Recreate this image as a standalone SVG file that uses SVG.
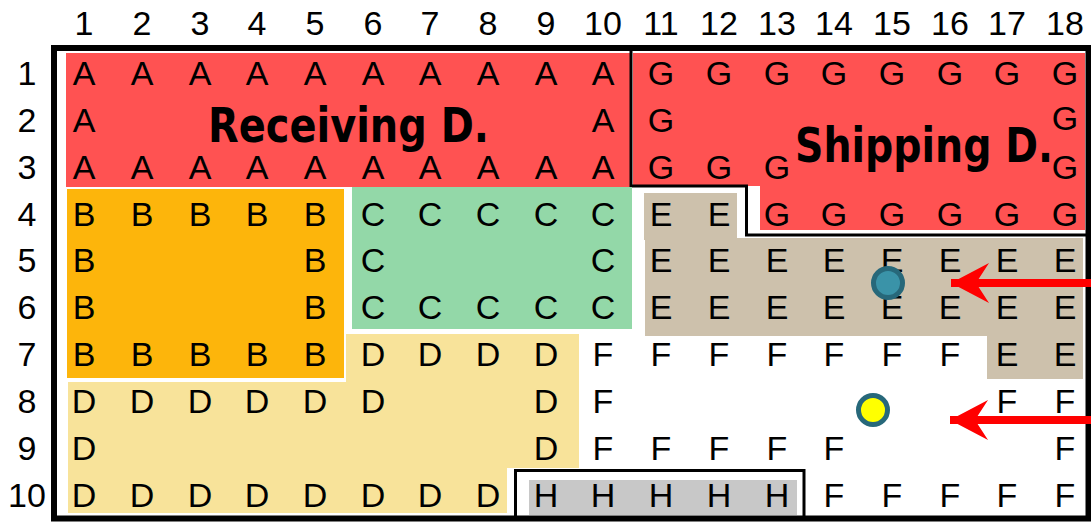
<svg xmlns="http://www.w3.org/2000/svg" width="1091" height="522" viewBox="0 0 1091 522">
<defs>
<style>
text{font-family:"Liberation Sans",Arial,sans-serif;font-size:34px;fill:#000;text-anchor:middle}
.lbl{font-family:"DejaVu Sans",Verdana,sans-serif;font-weight:bold;font-size:48px;text-anchor:start}
.line{fill:none;stroke:#000;stroke-width:3}
.red{fill:#FF5252}
.arrow{stroke:#FF0000;stroke-width:8;fill:none}
</style>
<marker id="head" viewBox="0 0 40 42" markerUnits="userSpaceOnUse" markerWidth="40" markerHeight="42" refX="38" refY="21" orient="auto">
<path d="M0,1 L38,21 L0,41 L13,21 Z" fill="#FF0000"/>
</marker>
</defs>
<rect width="1091" height="522" fill="#fff"/>
<g id="headers">
<text x="84" y="35">1</text><text x="142" y="35">2</text><text x="200" y="35">3</text><text x="257" y="35">4</text><text x="315" y="35">5</text><text x="373" y="35">6</text><text x="430" y="35">7</text><text x="488" y="35">8</text><text x="546" y="35">9</text><text x="603" y="35">10</text><text x="661" y="35">11</text><text x="719" y="35">12</text><text x="777" y="35">13</text><text x="834" y="35">14</text><text x="892" y="35">15</text><text x="950" y="35">16</text><text x="1007" y="35">17</text><text x="1065" y="35">18</text>
<text x="27" y="85">1</text><text x="27" y="132">2</text><text x="27" y="179">3</text><text x="27" y="226">4</text><text x="27" y="272">5</text><text x="27" y="319">6</text><text x="27" y="366">7</text><text x="27" y="413">8</text><text x="27" y="460">9</text><text x="27" y="507">10</text>
</g>
<g id="receiving">
<rect class="red" x="66" y="53" width="564" height="134"/>
<text x="84" y="85">A</text><text x="142" y="85">A</text><text x="200" y="85">A</text><text x="257" y="85">A</text><text x="315" y="85">A</text><text x="373" y="85">A</text><text x="430" y="85">A</text><text x="488" y="85">A</text><text x="546" y="85">A</text><text x="603" y="85">A</text>
<text x="84" y="132">A</text><text x="603" y="132">A</text>
<text x="84" y="179">A</text><text x="142" y="179">A</text><text x="200" y="179">A</text><text x="257" y="179">A</text><text x="315" y="179">A</text><text x="373" y="179">A</text><text x="430" y="179">A</text><text x="488" y="179">A</text><text x="546" y="179">A</text><text x="603" y="179">A</text>
<text class="lbl" x="208" y="142" textLength="281" lengthAdjust="spacingAndGlyphs">Receiving D.</text>
</g>
<g id="shipping">
<path class="red" d="M633,53 H1085 V230 H760 V186 H633 Z"/>
<text x="661" y="85">G</text><text x="719" y="85">G</text><text x="777" y="85">G</text><text x="834" y="85">G</text><text x="892" y="85">G</text><text x="950" y="85">G</text><text x="1007" y="85">G</text><text x="1065" y="85">G</text>
<text x="661" y="132">G</text><text x="1065" y="130">G</text>
<text x="661" y="179">G</text><text x="719" y="179">G</text><text x="777" y="179">G</text><text x="1065" y="179">G</text>
<text x="777" y="226">G</text><text x="834" y="226">G</text><text x="892" y="226">G</text><text x="950" y="226">G</text><text x="1007" y="226">G</text><text x="1065" y="226">G</text>
<text class="lbl" x="795" y="162" textLength="258" lengthAdjust="spacingAndGlyphs">Shipping D.</text>
<path class="line" d="M631,48 V186 H746.5 V235 H1088"/>
</g>
<g id="zoneB">
<rect x="67" y="189" width="277" height="189" fill="#FDB50B"/>
<text x="84" y="226">B</text><text x="142" y="226">B</text><text x="200" y="226">B</text><text x="257" y="226">B</text><text x="315" y="226">B</text>
<text x="84" y="272">B</text><text x="315" y="272">B</text>
<text x="84" y="319">B</text><text x="315" y="319">B</text>
<text x="84" y="366">B</text><text x="142" y="366">B</text><text x="200" y="366">B</text><text x="257" y="366">B</text><text x="315" y="366">B</text>
</g>
<g id="zoneC">
<rect x="352" y="187" width="280" height="142" fill="#93D8A8"/>
<text x="373" y="226">C</text><text x="430" y="226">C</text><text x="488" y="226">C</text><text x="546" y="226">C</text><text x="603" y="226">C</text>
<text x="373" y="272">C</text><text x="603" y="272">C</text>
<text x="373" y="319">C</text><text x="430" y="319">C</text><text x="488" y="319">C</text><text x="546" y="319">C</text><text x="603" y="319">C</text>
</g>
<g id="zoneD">
<path d="M346,334 H579 V468 H507 V513 H68 V382 H346 Z" fill="#F8E39A"/>
<text x="373" y="366">D</text><text x="430" y="366">D</text><text x="488" y="366">D</text><text x="546" y="366">D</text>
<text x="84" y="413">D</text><text x="142" y="413">D</text><text x="200" y="413">D</text><text x="257" y="413">D</text><text x="315" y="413">D</text><text x="373" y="413">D</text><text x="546" y="413">D</text>
<text x="84" y="460">D</text><text x="546" y="460">D</text>
<text x="84" y="507">D</text><text x="142" y="507">D</text><text x="200" y="507">D</text><text x="257" y="507">D</text><text x="315" y="507">D</text><text x="373" y="507">D</text><text x="430" y="507">D</text><text x="488" y="507">D</text>
</g>
<g id="zoneE">
<path d="M644,193 H737 V238 H1083 V379 H987 V336 H645 V240 H644 Z" fill="#CDC1AC"/>
<text x="661" y="226">E</text><text x="719" y="226">E</text>
<text x="661" y="272">E</text><text x="719" y="272">E</text><text x="777" y="272">E</text><text x="834" y="272">E</text><text x="892" y="272">E</text><text x="950" y="272">E</text><text x="1007" y="272">E</text><text x="1065" y="272">E</text>
<text x="661" y="319">E</text><text x="719" y="319">E</text><text x="777" y="319">E</text><text x="834" y="319">E</text><text x="892" y="319">E</text><text x="950" y="319">E</text><text x="1007" y="319">E</text><text x="1065" y="319">E</text>
<text x="1007" y="366">E</text><text x="1065" y="366">E</text>
</g>
<g id="zoneF">
<text x="603" y="366">F</text><text x="661" y="366">F</text><text x="719" y="366">F</text><text x="777" y="366">F</text><text x="834" y="366">F</text><text x="892" y="366">F</text><text x="950" y="366">F</text>
<text x="603" y="413">F</text><text x="1007" y="413">F</text><text x="1065" y="413">F</text>
<text x="603" y="460">F</text><text x="661" y="460">F</text><text x="719" y="460">F</text><text x="777" y="460">F</text><text x="834" y="460">F</text><text x="1065" y="460">F</text>
<text x="834" y="507">F</text><text x="892" y="507">F</text><text x="950" y="507">F</text><text x="1007" y="507">F</text><text x="1065" y="507">F</text>
</g>
<g id="zoneH">
<rect x="529" y="480" width="268" height="35" fill="#C8C8C8"/>
<text x="546" y="507">H</text><text x="603" y="507">H</text><text x="661" y="507">H</text><text x="719" y="507">H</text><text x="777" y="507">H</text>
<path class="line" d="M515.5,518 V470.5 H804 V518"/>
</g>
<g id="frame">
<rect x="54" y="48" width="1034.5" height="470.5" fill="none" stroke="#000" stroke-width="6"/>
</g>
<g id="marker-blue">
<circle cx="888" cy="283" r="14.5" fill="#3A93A8" stroke="#27687A" stroke-width="5"/>
</g>
<g id="marker-yellow">
<circle cx="873" cy="410" r="14.5" fill="#FFFF00" stroke="#27687A" stroke-width="5"/>
</g>
<g id="connectors">
<line class="arrow" x1="1091" y1="283" x2="951" y2="283" marker-end="url(#head)"/>
<line class="arrow" x1="1091" y1="420" x2="950" y2="420" marker-end="url(#head)"/>
</g>
</svg>
